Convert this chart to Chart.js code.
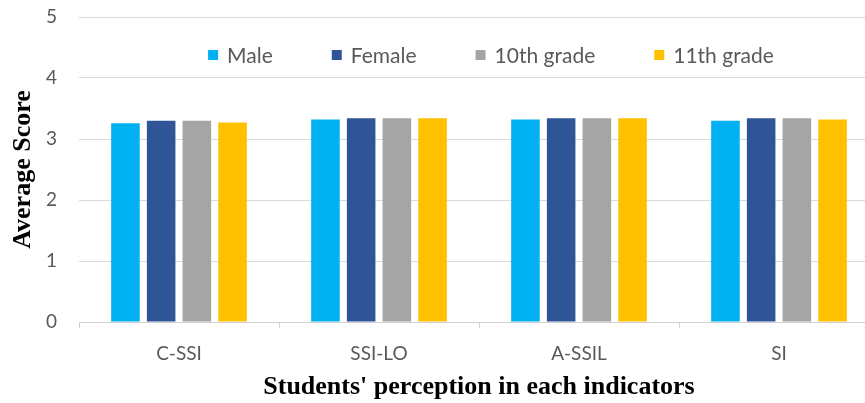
<!DOCTYPE html>
<html>
<head>
<meta charset="utf-8">
<script src="https://cdn.jsdelivr.net/npm/chart.js@4/dist/chart.umd.min.js"></script>
<style>
  html, body { margin: 0; padding: 0; background: #ffffff; overflow: hidden; }
  #wrap { width: 880px; height: 403px; }
</style>
</head>
<body>
<div id="wrap"><canvas id="chart" width="880" height="403"></canvas></div>
<script>
// Indicators on the x axis
const categories = ['C-SSI', 'SSI-LO', 'A-SSIL', 'SI'];

// Average score per group
const male    = [3.26, 3.32, 3.32, 3.30];
const female  = [3.30, 3.34, 3.34, 3.34];
const grade10 = [3.30, 3.34, 3.34, 3.34];
const grade11 = [3.27, 3.34, 3.34, 3.32];

const seriesNames = ['Male', 'Female', '10th grade', '11th grade'];
const seriesColors = ['#00B0F0', '#2F5597', '#A5A5A5', '#FFC000'];

const yTicks = [0, 1, 2, 3, 4, 5];

const axisTitleFont = { family: '"Liberation Serif", "Times New Roman", serif', size: 26, weight: 'bold' };
const labelFont = { family: 'Lato, "Open Sans", sans-serif', size: 19 };
const textGrey = '#595959';

// Legend drawn inside the plot, on one row near the top
const inlineLegend = {
  id: 'inlineLegend',
  afterDraw(chart) {
    const ctx = chart.ctx;
    const box = 10, boxGap = 9, itemGap = 59;
    const fontSize = 21;
    ctx.save();
    ctx.font = fontSize + 'px Lato, "Open Sans", sans-serif';
    const items = chart.data.datasets.map(ds => ({
      label: ds.label, color: ds.backgroundColor, w: ctx.measureText(ds.label).width
    }));
    const total = items.reduce((s, it) => s + box + boxGap + it.w, 0) + itemGap * (items.length - 1);
    const area = chart.chartArea;
    let x = (area.left + area.right) / 2 + 12 - total / 2;
    const y = area.top + 38;
    ctx.textBaseline = 'middle';
    ctx.textAlign = 'left';
    items.forEach(it => {
      ctx.fillStyle = it.color;
      ctx.fillRect(x, y - box / 2, box, box);
      x += box + boxGap;
      ctx.fillStyle = textGrey;
      ctx.fillText(it.label, x, y + 1);
      x += it.w + itemGap;
    });
    ctx.restore();
  }
};

const seriesData = [male, female, grade10, grade11];

new Chart(document.getElementById('chart'), {
  type: 'bar',
  data: {
    labels: categories,
    datasets: seriesData.map((values, i) => ({
      label: seriesNames[i],
      data: values,
      backgroundColor: seriesColors[i],
      borderWidth: 0,
      categoryPercentage: 0.714,
      barPercentage: 0.80
    }))
  },
  options: {
    responsive: false,
    animation: false,
    layout: { padding: { top: 17, right: 1, bottom: 0, left: 0 } },
    plugins: {
      legend: { display: false },
      tooltip: { enabled: false }
    },
    scales: {
      x: {
        afterFit(scale) { scale.height = 81; },
        grid: {
          offset: true,
          drawOnChartArea: false,
          drawTicks: true,
          tickLength: 6,
          color: '#d0d0d0'
        },
        border: { display: true, color: '#d0d0d0', width: 1 },
        ticks: { color: textGrey, font: labelFont, padding: 14 },
        title: {
          display: true,
          text: "Students' perception in each indicators",
          color: '#000000',
          font: axisTitleFont,
          padding: { top: 0, bottom: 0 }
        }
      },
      y: {
        min: 0,
        max: 5,
        afterFit(scale) { scale.width = 79; },
        afterBuildTicks(scale) { scale.ticks = yTicks.map(v => ({ value: v })); },
        grid: { color: '#d9d9d9', drawTicks: true, tickLength: 22, tickColor: 'rgba(0,0,0,0)' },
        border: { display: false },
        ticks: { color: textGrey, font: labelFont, padding: 0 },
        title: {
          display: true,
          text: 'Average Score',
          color: '#000000',
          font: axisTitleFont,
          padding: { top: 8, bottom: 0 }
        }
      }
    }
  },
  plugins: [inlineLegend]
});
</script>
</body>
</html>
